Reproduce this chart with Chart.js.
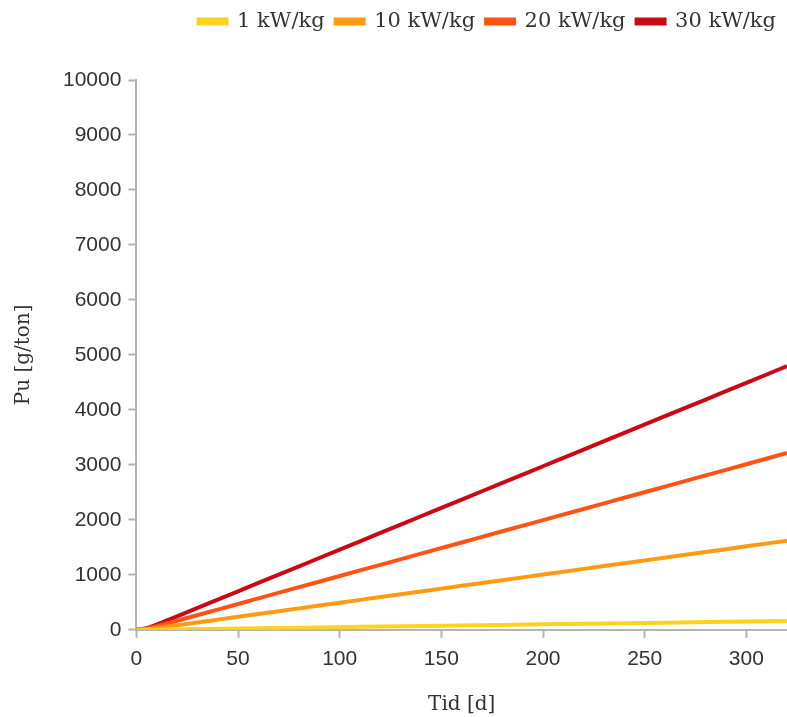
<!DOCTYPE html>
<html><head><meta charset="utf-8">
<script src="https://cdn.jsdelivr.net/npm/chart.js@4"></script>
<style>html,body{margin:0;padding:0;background:#fff}#wrap{width:787px;height:717px}</style>
</head><body><div id="wrap"><canvas id="c"></canvas></div>
<script>
const days = [0,5,10,15,20,40,60,80,100,120,140,160,180,200,220,240,260,280,300,320];
const pu1  = [0,1,3,6,8,18,28,38,48,59,69,79,89,99,109,119,130,140,150,160];
const pu10 = [0,10,32,58,83,185,288,390,493,595,698,800,903,1005,1108,1210,1313,1415,1518,1620];
const pu20 = [0,20,65,115,165,368,572,775,978,1182,1385,1588,1792,1995,2198,2402,2605,2808,3012,3215];
const pu30 = [0,30,95,170,245,548,852,1155,1458,1762,2065,2368,2672,2975,3278,3582,3885,4188,4492,4795];
const seriesLabels = ['1 kW/kg','10 kW/kg','20 kW/kg','30 kW/kg'];
const colors = ['#FFD21F','#FF9A12','#FF5315','#C80A16'];
const series = [pu1,pu10,pu20,pu30];
const xTicks = [0,50,100,150,200,250,300];
const serif = "'DejaVu Serif', serif";
const sans = "'Liberation Sans', Arial, sans-serif";

const datasets = series.map((s,i)=>({
  label: seriesLabels[i],
  data: days.map((d,j)=>({x:d,y:s[j]})),
  borderColor: colors[i], backgroundColor: colors[i],
  borderWidth: 4, pointRadius: 0, cubicInterpolationMode:'monotone', fill:false
}));

const legendSpace = {
  id:'legendSpace',
  beforeInit(chart){
    const orig = chart.legend.fit;
    chart.legend.fit = function(){ orig.call(this); this.height += 38; };
  }
};

new Chart(document.getElementById('c'), {
  type:'line',
  data:{datasets},
  plugins:[legendSpace],
  options:{
    responsive:true, maintainAspectRatio:false, animation:false,
    layout:{padding:{left:8,right:0,top:0,bottom:0}},
    plugins:{
      legend:{position:'top', align:'end',
        labels:{font:{family:serif, size:21}, color:'#333',
          boxWidth:28, boxHeight:4, padding:11}},
      tooltip:{enabled:false}
    },
    scales:{
      x:{type:'linear', min:0, max:320,
        afterBuildTicks:(ax)=>{ax.ticks = xTicks.map(v=>({value:v}));},
        ticks:{font:{family:sans,size:21}, color:'#333', padding:9, callback:v=>String(v)},
        grid:{display:true, drawOnChartArea:false, tickLength:8, tickWidth:2, tickColor:'#b3b3b3'},
        border:{color:'#b3b3b3', width:2},
        title:{display:true, text:'Tid [d]', font:{family:serif, size:20}, color:'#333', padding:{top:12,bottom:0}}
      },
      y:{min:0, max:10000,
        ticks:{stepSize:1000, font:{family:sans,size:21}, color:'#333', padding:7, callback:v=>String(v)},
        grid:{display:true, drawOnChartArea:false, tickLength:8, tickWidth:2, tickColor:'#b3b3b3'},
        border:{color:'#b3b3b3', width:2},
        title:{display:true, text:'Pu [g/ton]', font:{family:serif, size:20}, color:'#333', padding:{top:4,bottom:20}}
      }
    }
  }
});
</script></body></html>
